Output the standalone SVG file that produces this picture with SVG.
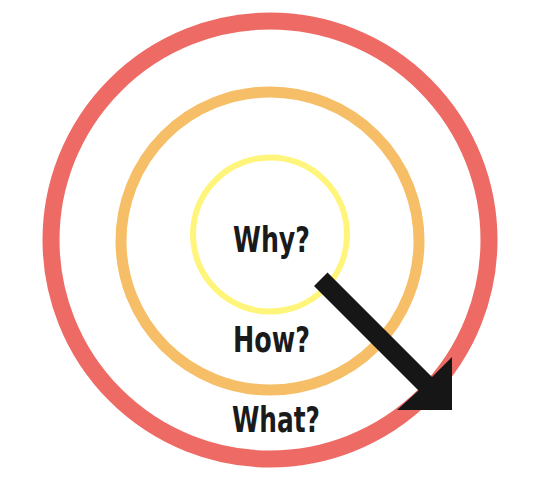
<svg xmlns="http://www.w3.org/2000/svg" width="558" height="484" viewBox="0 0 558 484">
  <style>
    .ring { fill: none; }
    .lbl { font-family: "DejaVu Sans", "Liberation Sans", sans-serif; font-weight: bold; font-size: 35px; fill: #1a1a1a; text-anchor: middle; }
  </style>
  <rect width="558" height="484" fill="#ffffff"/>
  <g id="what">
    <circle class="ring" cx="270" cy="240" r="219" stroke="#EE6A65" stroke-width="17"/>
    <text class="lbl" x="276" y="432" textLength="88" lengthAdjust="spacingAndGlyphs">What?</text>
  </g>
  <g id="how">
    <circle class="ring" cx="270" cy="241" r="149" stroke="#F6BE66" stroke-width="11"/>
    <text class="lbl" x="271.5" y="352" textLength="77" lengthAdjust="spacingAndGlyphs">How?</text>
  </g>
  <g id="why">
    <circle class="ring" cx="270" cy="234.5" r="77" stroke="#FFF57A" stroke-width="6"/>
    <text class="lbl" x="271.5" y="252" textLength="77" lengthAdjust="spacingAndGlyphs">Why?</text>
  </g>
  <g id="connectors">
    <path d="M314,286 L327.5,272.5 L432,377 L452,357 L452,410 L397,410 L418.5,390.5 Z" fill="#161616"/>
  </g>
</svg>
